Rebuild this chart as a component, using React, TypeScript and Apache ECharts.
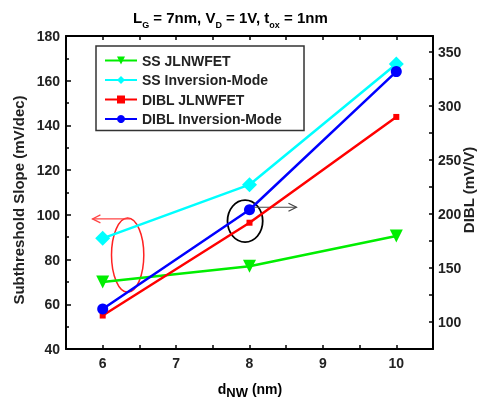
import React, { useEffect, useRef } from "react";
import * as echarts from "echarts";

const xValues = [6, 8, 10];
const ssJL = [70, 77, 90.5];
const ssInv = [89.5, 113.5, 167.5];
const dibJL = [106, 192, 290];
const dibInv = [112, 204, 332];
const xTicks = [6, 7, 8, 9, 10];
const seriesNames = ["SS JLNWFET", "SS Inversion-Mode", "DIBL JLNWFET", "DIBL Inversion-Mode"];

const FONT = "Arial, 'Liberation Sans', sans-serif";

export default function App() {
  const ref = useRef<HTMLDivElement>(null);
  useEffect(() => {
    if (!ref.current) return;
    const chart = echarts.init(ref.current, null, { renderer: "svg" });
    const pair = (ys: number[]) => xValues.map((x, i) => [x, ys[i]]);
    const axisLbl = { fontFamily: FONT, fontWeight: "bold", fontSize: 14, color: "#222" };
    chart.setOption({
      animation: false,
      grid: { left: 66, right: 51, top: 36, bottom: 53 },
      legend: {
        left: 96,
        top: 46,
        orient: "vertical",
        data: seriesNames,
        borderColor: "#333",
        borderWidth: 1.5,
        padding: [7, 22, 4, 8],
        itemWidth: 32,
        itemHeight: 10,
        itemGap: 4.5,
        textStyle: { fontFamily: FONT, fontWeight: "bold", fontSize: 14, color: "#222", lineHeight: 15 },
      },
      xAxis: [
        {
          type: "value",
          min: 5.5,
          max: 10.5,
          interval: 0.5,
          axisLine: { lineStyle: { color: "#000", width: 2 } },
          axisTick: { inside: true, length: 4, lineStyle: { color: "#000", width: 1.5 } },
          splitLine: { show: false },
          axisLabel: {
            ...axisLbl,
            margin: 7,
            formatter: (v: number) => (xTicks.includes(v) ? String(v) : ""),
          },
        },
        {
          type: "value",
          position: "top",
          min: 5.5,
          max: 10.5,
          interval: 0.5,
          axisLine: { lineStyle: { color: "#000", width: 2 } },
          axisTick: { inside: true, length: 4, lineStyle: { color: "#000", width: 1.5 } },
          splitLine: { show: false },
          axisLabel: { show: false },
        },
      ],
      yAxis: [
        {
          type: "value",
          min: 40,
          max: 180,
          interval: 20,
          axisLine: { show: true, lineStyle: { color: "#000", width: 2 } },
          axisTick: { show: true, inside: true, length: 5, lineStyle: { color: "#000", width: 1.5 } },
          minorTick: { show: true, splitNumber: 2, length: 3, lineStyle: { color: "#000", width: 1.5 } },
          splitLine: { show: false },
          axisLabel: { ...axisLbl, margin: 6 },
        },
        {
          type: "value",
          position: "right",
          min: 75,
          max: 365,
          interval: 25,
          axisLine: { show: true, lineStyle: { color: "#000", width: 2 } },
          axisTick: { show: true, inside: true, length: 4, lineStyle: { color: "#000", width: 1.5 } },
          splitLine: { show: false },
          axisLabel: {
            ...axisLbl,
            margin: 5,
            formatter: (v: number) => (v % 50 === 0 ? String(v) : ""),
          },
        },
      ],
      series: [
        {
          name: seriesNames[0],
          type: "line",
          data: pair(ssJL),
          yAxisIndex: 0,
          color: "#00ee00",
          lineStyle: { width: 2.5 },
          symbol: "triangle",
          symbolRotate: 180,
          symbolSize: 13,
        },
        {
          name: seriesNames[1],
          type: "line",
          data: pair(ssInv),
          yAxisIndex: 0,
          color: "#00ffff",
          lineStyle: { width: 2.5 },
          symbol: "diamond",
          symbolSize: 15,
        },
        {
          name: seriesNames[2],
          type: "line",
          data: pair(dibJL),
          yAxisIndex: 1,
          color: "#ff0000",
          lineStyle: { width: 2.5 },
          symbol: "rect",
          symbolSize: 6,
        },
        {
          name: seriesNames[3],
          type: "line",
          data: pair(dibInv),
          yAxisIndex: 1,
          color: "#0000ff",
          lineStyle: { width: 2.5 },
          symbol: "circle",
          symbolSize: 11,
        },
      ],
    });

    // annotations in data coordinates (left axis)
    const px = (x: number, y: number) =>
      chart.convertToPixel({ xAxisIndex: 0, yAxisIndex: 0 }, [x, y]) as number[];
    const redC = px(6.34, 82);
    const redE = px(6.34 + 0.22, 82 + 16.6);
    const blkC = px(7.94, 97.2);
    const blkE = px(7.94 + 0.24, 97.2 + 9.4);
    const ra0 = px(6.37, 98.2);
    const ra1 = px(5.86, 98.2);
    const ba0 = px(8.06, 103.4);
    const ba1 = px(8.64, 103.4);

    const head = (tip: number[], dir: number, color: string) => ({
      type: "polyline",
      shape: { points: [[tip[0] - dir * 8, tip[1] - 4], tip, [tip[0] - dir * 8, tip[1] + 4]] },
      style: { stroke: color, lineWidth: 1.2, fill: "none" },
    });

    chart.setOption({
      graphic: [
        {
          type: "ellipse",
          shape: { cx: redC[0], cy: redC[1], rx: redE[0] - redC[0], ry: redC[1] - redE[1] },
          style: { fill: "none", stroke: "#ff2222", lineWidth: 1.5 },
        },
        {
          type: "line",
          shape: { x1: ra0[0], y1: ra0[1], x2: ra1[0], y2: ra1[1] },
          style: { stroke: "#ff4444", lineWidth: 1.2 },
        },
        head(ra1, -1, "#ff4444"),
        {
          type: "ellipse",
          shape: { cx: blkC[0], cy: blkC[1], rx: blkE[0] - blkC[0], ry: blkC[1] - blkE[1] },
          style: { fill: "none", stroke: "#000", lineWidth: 1.8 },
        },
        {
          type: "line",
          shape: { x1: ba0[0], y1: ba0[1], x2: ba1[0], y2: ba1[1] },
          style: { stroke: "#444", lineWidth: 1.2 },
        },
        head(ba1, 1, "#444"),
        {
          type: "text",
          x: 133,
          y: 17,
          style: {
            text: "{m|L}{s|G}{m| = 7nm, V}{s|D}{m| = 1V, t}{s|ox}{m| = 1nm}",
            verticalAlign: "middle",
            rich: {
              m: { fontFamily: FONT, fontWeight: "bold", fontSize: 15, color: "#111", lineHeight: 16, verticalAlign: "bottom" },
              s: { fontFamily: FONT, fontWeight: "bold", fontSize: 9, color: "#111", lineHeight: 9, verticalAlign: "bottom", padding: [0, 0, -4, 0] },
            },
          },
        },
        {
          type: "text",
          x: 18,
          y: 200,
          rotation: Math.PI / 2,
          style: {
            text: "Subthreshold Slope (mV/dec)",
            align: "center",
            verticalAlign: "middle",
            fontFamily: FONT,
            fontWeight: "bold",
            fontSize: 15,
            fill: "#222",
          },
        },
        {
          type: "text",
          x: 468,
          y: 190,
          rotation: Math.PI / 2,
          style: {
            text: "DIBL (mV/V)",
            align: "center",
            verticalAlign: "middle",
            fontFamily: FONT,
            fontWeight: "bold",
            fontSize: 15,
            fill: "#222",
          },
        },
        {
          type: "text",
          x: 250,
          y: 389,
          style: {
            text: "{m|d}{s|NW}{m| (nm)}",
            align: "center",
            verticalAlign: "middle",
            rich: {
              m: { fontFamily: FONT, fontWeight: "bold", fontSize: 14, color: "#222", lineHeight: 14, verticalAlign: "bottom" },
              s: { fontFamily: FONT, fontWeight: "bold", fontSize: 13, color: "#222", lineHeight: 13, verticalAlign: "bottom", padding: [0, 0, -3, 0] },
            },
          },
        },
      ],
    });

    return () => chart.dispose();
  }, []);
  return <div ref={ref} style={{ position: "fixed", left: 0, top: 0, width: 484, height: 402 }} />;
}
